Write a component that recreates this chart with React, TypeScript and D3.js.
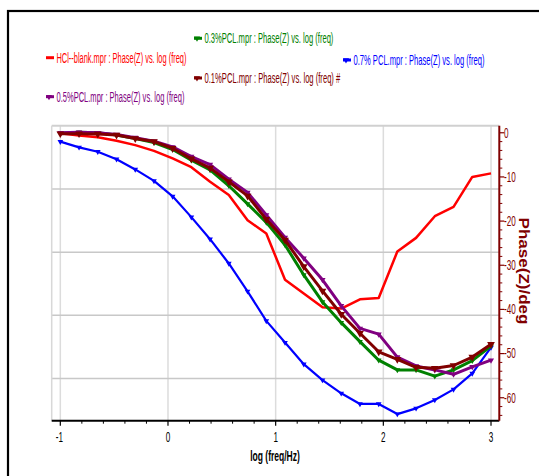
import React from 'react';
import * as d3 from 'd3';

const logFreq = [-1.0, -0.826, -0.652, -0.478, -0.304, -0.13, 0.043, 0.217, 0.391, 0.565, 0.739, 0.913, 1.087, 1.261, 1.435, 1.609, 1.783, 1.957, 2.13, 2.304, 2.478, 2.652, 2.826, 3.0];

const hclBlank = [-0.1, -0.6, -1.0, -1.8, -2.8, -4.1, -5.8, -7.8, -11.1, -14.1, -19.8, -22.8, -33.3, -36.4, -39.5, -39.8, -37.7, -37.4, -26.9, -23.8, -18.9, -16.8, -10.0, -9.2];
const pcl07 = [-2.0, -3.3, -4.3, -6.0, -8.3, -10.9, -14.4, -19.1, -24.1, -29.6, -35.9, -42.6, -47.5, -52.4, -56.0, -59.0, -61.4, -61.4, -63.7, -62.4, -60.5, -58.1, -54.5, -48.6];
const pcl03 = [-0.1, 0.1, 0.0, -0.5, -1.3, -2.2, -3.8, -6.2, -8.4, -12.0, -16.1, -20.3, -25.4, -32.2, -38.3, -43.0, -47.3, -51.5, -53.7, -53.7, -55.1, -53.7, -51.6, -48.3];
const pcl05 = [0.0, 0.1, 0.0, -0.4, -1.1, -1.9, -3.2, -5.4, -7.2, -10.5, -13.5, -18.6, -23.7, -28.4, -33.3, -39.2, -44.3, -45.6, -50.8, -52.8, -53.7, -54.7, -53.0, -51.5];
const pcl01 = [-0.2, -0.2, -0.3, -0.5, -1.3, -2.0, -3.5, -5.9, -8.0, -11.1, -14.3, -19.6, -24.3, -30.3, -35.8, -41.1, -45.4, -49.6, -51.3, -53.1, -53.3, -52.7, -50.8, -47.9];

const xTicks = [-1, 0, 1, 2, 3];
const yTicks = [0, -10, -20, -30, -40, -50, -60];
const gridTicks = [-15, -30, -45, -60];

const legendLabels = [
  'HCl--blank.mpr : Phase(Z) vs. log (freq)',
  '0.3%PCL.mpr : Phase(Z) vs. log (freq)',
  '0.7% PCL.mpr : Phase(Z) vs. log (freq)',
  '0.1%PCL.mpr : Phase(Z) vs. log (freq) #',
  '0.5%PCL.mpr : Phase(Z) vs. log (freq)',
];

const FONT = '"Liberation Sans", Arial, sans-serif';
const AXIS_RED = '#800000';

let measureCtx: CanvasRenderingContext2D | null = null;
function measure(text: string, size: number, weight = 'normal'): number {
  if (!measureCtx) {
    const c = document.createElement('canvas');
    measureCtx = c.getContext('2d');
  }
  if (!measureCtx) return text.length * size * 0.5;
  measureCtx.font = `${weight} ${size}px "Liberation Sans", Arial, sans-serif`;
  return measureCtx.measureText(text).width;
}

function SText(props: any) {
  const { x, y, sx = 0.58, anchor = 'middle', fs = 14, fill = '#000', weight = 'normal', children } = props;
  return (
    <text
      transform={`translate(${x},${y}) scale(${sx},1)`}
      textAnchor={anchor}
      dominantBaseline="central"
      fontFamily={FONT}
      fontSize={fs}
      fontWeight={weight}
      fill={fill}
    >
      {children}
    </text>
  );
}

export default function App() {
  const x = d3.scaleLinear().domain([-1.08, 3.077]).range([51.7, 499.3]);
  const y = d3.scaleLinear().domain([1.6, -65.2]).range([125.7, 420.7]);
  const yGrid = d3.scaleLinear().domain([0, -70]).range([125.7, 420.7]);

  const line = d3
    .line<number>()
    .x((_, i) => x(logFreq[i]))
    .y((d) => y(d));

  const series = [
    { data: hclBlank, color: '#ff0000', width: 2.5, marker: 0 },
    { data: pcl07, color: '#0000ff', width: 2.2, marker: 14 },
    { data: pcl03, color: '#008000', width: 3, marker: 14 },
    { data: pcl05, color: '#800080', width: 3, marker: 16 },
    { data: pcl01, color: '#800000', width: 3, marker: 26 },
  ];

  const legend = [
    { label: legendLabels[0], color: '#ff0000', mx: 46, my: 57.7, tw: 130, marker: false },
    { label: legendLabels[1], color: '#008000', mx: 194, my: 38.3, tw: 129, marker: true },
    { label: legendLabels[2], color: '#0000ff', mx: 343, my: 60, tw: 131, marker: true },
    { label: legendLabels[3], color: '#800000', mx: 194, my: 78, tw: 136, marker: true },
    { label: legendLabels[4], color: '#800080', mx: 46, my: 96.7, tw: 128, marker: true },
  ];
  const LFS = 15;

  const [x0, x1] = x.range();
  const [y0, y1] = y.range();
  const tri = (s: number) => d3.symbol().type(d3.symbolTriangle).size(s)() as string;

  const xMinor = d3.range(-1, 3.0001, 0.2).filter((v) => Math.abs(v - Math.round(v)) > 0.01);
  const yMinor = d3.range(0, -64.001, -2).filter((v) => Math.abs(v % 10) > 0.01);

  const titleW = measure('Phase(Z)/deg', 14.5, 'bold');
  const titleS = 107 / titleW;

  return (
    <svg width={539} height={476} style={{ position: 'absolute', left: 0, top: 0, background: '#fff' }}>
      <rect x={0} y={0} width={539} height={476} fill="#fff" />
      {/* outer frame */}
      <rect x={8} y={11} width={560} height={500} fill="none" stroke="#000" strokeWidth={2.2} />

      {/* grid */}
      {xTicks.map((t) => (
        <line key={'gx' + t} x1={x(t)} x2={x(t)} y1={y0} y2={y1} stroke="#dcdcdc" strokeWidth={1.5} />
      ))}
      {gridTicks.map((t) => (
        <line key={'gy' + t} x1={x0} x2={x1} y1={yGrid(t)} y2={yGrid(t)} stroke="#c8c8c8" strokeWidth={1.5} />
      ))}
      <line x1={x0} x2={x1} y1={y0} y2={y0} stroke="#d0d0d0" strokeWidth={2} />
      <line x1={x0} x2={x0} y1={y0} y2={y1} stroke="#d8d8d8" strokeWidth={1.5} />

      {/* series */}
      {series.map((s, si) => (
        <g key={'s' + si}>
          <path d={line(s.data) || ''} fill="none" stroke={s.color} strokeWidth={s.width} strokeLinejoin="round" />
          {s.marker > 0 &&
            s.data.map((d, i) => (
              <path
                key={i}
                d={tri(s.marker)}
                transform={`translate(${x(logFreq[i])},${y(d)}) rotate(180)`}
                fill={s.color}
              />
            ))}
        </g>
      ))}

      {/* x axis */}
      <line x1={x0} x2={x1} y1={y1} y2={y1} stroke="#000" strokeWidth={2} />
      {xTicks.map((t) => (
        <g key={'xt' + t}>
          <line x1={x(t)} x2={x(t)} y1={y1} y2={y1 + 5} stroke="#000" strokeWidth={1.2} />
          <SText x={x(t) - (t < 0 ? 1 : 0)} y={y1 + 16}>{t < 0 ? '-' + Math.abs(t) : String(t)}</SText>
        </g>
      ))}
      {xMinor.map((t, i) => (
        <line key={'xm' + i} x1={x(t)} x2={x(t)} y1={y1} y2={y1 + 3} stroke="#000" strokeWidth={1} />
      ))}
      <SText x={275} y={456.5} weight="bold" sx={0.61}>log (freq/Hz)</SText>

      {/* right y axis */}
      <line x1={x1} x2={x1} y1={y0} y2={y1} stroke={AXIS_RED} strokeWidth={2} />
      {yTicks.map((t) => (
        <g key={'yt' + t}>
          <line x1={x1} x2={x1 + 5} y1={y(t)} y2={y(t)} stroke={AXIS_RED} strokeWidth={1.2} />
          <SText x={504} y={y(t)} anchor="start" fill={AXIS_RED}>{t < 0 ? '-' + Math.abs(t) : String(t)}</SText>
        </g>
      ))}
      {yMinor.map((t, i) => (
        <line key={'ym' + i} x1={x1} x2={x1 + 3} y1={y(t)} y2={y(t)} stroke={AXIS_RED} strokeWidth={1} />
      ))}
      <text
        transform={`translate(524,271) rotate(90) scale(${titleS},1)`}
        textAnchor="middle"
        dominantBaseline="central"
        fontFamily={FONT}
        fontSize={14.5}
        fontWeight="bold"
        fill={AXIS_RED}
      >
        Phase(Z)/deg
      </text>

      {/* legend */}
      {legend.map((l, i) => {
        const sx = l.tw / measure(l.label, LFS);
        return (
          <g key={'lg' + i}>
            <line x1={l.mx} x2={l.mx + 8} y1={l.my} y2={l.my} stroke={l.color} strokeWidth={3} />
            {l.marker && <path d={tri(16)} transform={`translate(${l.mx + 3},${l.my}) rotate(180)`} fill={l.color} />}
            <text
              transform={`translate(${l.mx + 10.5},${l.my}) scale(${sx},1)`}
              dominantBaseline="central"
              fontFamily={FONT}
              fontSize={LFS}
              fill={l.color}
            >
              {l.label}
            </text>
          </g>
        );
      })}
    </svg>
  );
}
